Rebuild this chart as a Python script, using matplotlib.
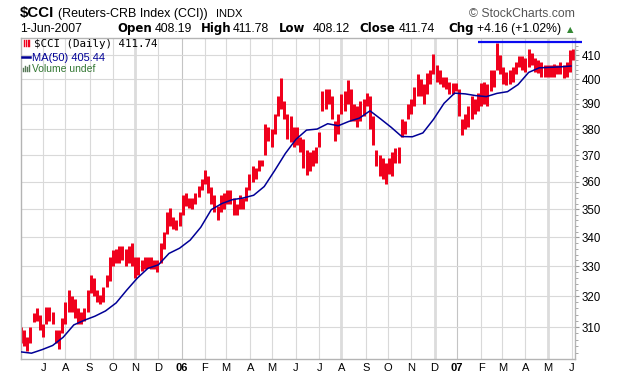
import numpy as np
import pandas as pd
import matplotlib
matplotlib.use('Agg')
import matplotlib.pyplot as plt
from matplotlib.lines import Line2D
from matplotlib.ticker import FixedLocator, NullFormatter, FuncFormatter

##################################################################
# DATA
##################################################################
# bar high / low, one value every 3rd trading day from 2-Jun-2005
hi = [310, 309, 307, 310, 314.5, 316, 314,
      311, 316.5, 316.5, 315, 309, 309, 313, 318,
      322, 320, 319, 316, 315, 316, 322, 327,
      326, 322, 320.5, 323, 327, 333, 335.5,
      336, 337, 337, 336, 337, 338, 333,
      333, 332, 333, 333, 333, 332, 332,
      338, 342, 349, 350.5, 347, 346, 349,
      355, 356, 354, 354, 356, 358.5, 361, 364.5,
      362, 358, 355, 351, 355, 356, 357,
      357, 354, 352, 355, 354, 358, 363,
      366, 365, 368, 368, 382, 381, 380,
      386, 393, 400.5, 391, 386, 385, 381, 381,
      377, 376, 372, 371, 372, 373, 379,
      395, 396, 396, 393, 383, 386, 394,
      395, 399.5, 396, 390, 389, 391, 392, 394.5,
      393, 385, 372, 370, 369, 367, 369,
      371, 372.5, 373, 384, 383, 390, 392,
      397, 402, 400, 398, 402.5, 404, 410.5,
      406, 404, 401, 401, 399, 398.5, 398.5,
      396, 384, 386, 389, 393, 392, 394.5,
      398.5, 399, 398, 404, 404, 415.3, 410,
      405, 403, 404, 405, 407, 409.5, 409.5,
      409, 412.4, 411, 409, 408, 407, 406, 406,
      406, 406.5, 406, 407, 406, 407, 412, 412.4]
lo = [305, 304, 302.5, 305, 311.5, 312, 309,
      307, 311, 312, 311, 305, 303, 308, 311,
      315, 315, 313, 311, 311, 312, 315, 321,
      320, 318, 317.5, 318, 323, 325, 330,
      331, 331, 332, 330, 331, 330, 326,
      327, 328.5, 329, 329.5, 329, 329, 328,
      331, 336, 341, 344, 343, 342.5, 344,
      348, 351, 350.5, 350, 352, 354.5, 357, 359,
      356, 352, 349, 346, 349, 350, 352,
      352, 348, 348, 350, 350, 353, 357,
      360, 361, 364, 366, 370, 375.5, 373,
      378, 385, 388, 384, 376, 375, 373, 374,
      371, 365, 362.5, 364, 366, 367, 373,
      387, 388, 390, 384, 375.5, 378, 386,
      387, 390, 383, 383, 381, 383, 385, 389,
      380, 374, 366, 362, 361, 359, 363,
      362, 367, 367, 377, 378, 384, 386,
      389, 393, 393, 390, 394, 398, 402,
      399, 398, 397, 396, 394, 394, 395,
      385, 377.5, 380, 381, 384, 386, 387,
      389, 390, 389, 395, 397, 404, 402,
      398, 397.5, 398, 399, 402, 405, 404,
      403, 405, 406, 403, 402.5, 401, 401, 401,
      401, 401, 402, 402, 400.5, 401, 403, 408]
# MA(50), one value every 10th trading day
ma50 = [302.2, 301.8, 302.9, 304.2, 306.8, 310.7, 312.2, 313.5, 315.2, 317.8,
        322.0, 326.0, 329.3, 330.5, 334.4, 336.2, 339.0, 343.5, 349.8, 352.0,
        353.4, 354.0, 355.0, 358.2, 364.2, 370.6, 376.0, 379.6, 380.0, 382.1,
        381.3, 383.0, 384.3, 387.2, 384.0, 380.7, 377.1, 377.0, 378.5, 383.8,
        390.2, 394.3, 394.0, 393.3, 392.9, 394.2, 394.9, 397.8, 402.8, 404.7,
        404.9, 405.1, 405.44]
yticks = [310, 320, 330, 340, 350, 360, 370, 380, 390, 400, 410]
line_level = 415.6       # user drawn line
line_from = '2007-01-29'

days = pd.bdate_range('2005-06-02', '2007-06-01')
xb = np.arange(len(hi)) * 3
xm = np.arange(len(ma50)) * 10

##################################################################
# FIGURE
##################################################################
W, H = 620, 379
fig = plt.figure(figsize=(W / 100, H / 100), dpi=100)
ax = fig.add_axes([20.7 / W, 1 - 359 / H, 554.3 / W, 321 / H])

def fx(x):
    return x / W

def fy(y):
    return 1 - y / H

# month ticks
ticks, labels = [], []
for i in range(1, len(days)):
    if days[i].month != days[i - 1].month:
        ticks.append(i)
        labels.append(days[i].strftime('%y') if days[i].month == 1 else days[i].strftime('%b')[0])

ax.set_yscale('log')
ax.set_xlim(-0.2, 523.8)
ax.set_ylim(300, 417.3)

grid_c = '#d9d9d9'
for t, lab in zip(ticks, labels):
    lw = 0.8
    c = grid_c
    if days[t].strftime('%Y-%m') in ('2005-11', '2006-08', '2006-12', '2007-05'):
        lw, c = 2.0, '#dcdcdc'
    if lab.isdigit():
        c = '#c4c4c4'
    ax.axvline(t, color=c, lw=lw, zorder=0)
for v in yticks:
    ax.axhline(v, color=grid_c, lw=0.8, zorder=0)

ax.vlines(xb, lo, hi, colors='#f0001c', lw=2.15, zorder=2)
ax.plot(xm, ma50, color='#000096', lw=1.1, zorder=3)

x0 = days.get_loc(pd.Timestamp(line_from))
ax.plot([x0, 530.4], [line_level, line_level], color='#0a0af0', lw=1.6,
        clip_on=False, zorder=4, solid_capstyle='butt')

ax.set_xticks(ticks)
ax.set_xticklabels(labels, fontsize=8, family='Liberation Sans')
for tl in ax.get_xticklabels():
    if tl.get_text().isdigit():
        tl.set_fontweight('bold')
ax.tick_params(axis='x', length=0, pad=3)

ax.yaxis.tick_right()
ax.yaxis.set_major_locator(FixedLocator(yticks))
ax.yaxis.set_major_formatter(FuncFormatter(lambda v, p: '%d' % v))
ax.yaxis.set_minor_locator(FixedLocator([v for v in range(302, 417, 2) if v % 10]))
ax.yaxis.set_minor_formatter(NullFormatter())
ax.tick_params(axis='y', which='major', length=3, width=0.8, color='#999999',
               pad=2, labelsize=8.3)
ax.tick_params(axis='y', which='minor', length=2, width=0.6, color='#999999')
for tl in ax.get_yticklabels():
    tl.set_family('Liberation Sans')

for s in ax.spines.values():
    s.set_color('#b4b4b4')
    s.set_linewidth(1.0)

##################################################################
# HEADER TEXT
##################################################################
sans = 'Liberation Sans'
fig.text(fx(20), fy(17), '$CCI', fontsize=10.8, fontweight='bold', family=sans, va='baseline')
fig.text(fx(58), fy(17), '(Reuters-CRB Index (CCI))', fontsize=9, family=sans, va='baseline')
fig.text(fx(216), fy(17), 'INDX', fontsize=8, family=sans, va='baseline')
fig.text(fx(469), fy(17), '\u00a9 StockCharts.com', fontsize=8.8, family=sans,
         color='#555555', va='baseline')

row2 = [(20, '1-Jun-2007', False), (117, 'Open', True), (155, '408.19', False),
        (201, 'High', True), (233, '411.78', False), (279, 'Low', True),
        (313, '408.12', False), (359, 'Close', True), (399, '411.74', False),
        (448, 'Chg', True), (477, '+4.16 (+1.02%)', False)]
for x, s, b in row2:
    if b:
        fig.text(fx(x), fy(32), s, fontsize=8.5, fontweight='bold', family='DejaVu Sans', va='baseline')
    else:
        fig.text(fx(x), fy(32), s, fontsize=8.8, family=sans, va='baseline')
fig.text(fx(567), fy(32), '\u25b2', fontsize=6, color='#338833', family='DejaVu Sans', va='baseline')

# legend inside the chart
for x in (23.5, 25.5, 27.5, 29.5):
    fig.add_artist(Line2D([fx(x), fx(x)], [fy(40), fy(46)], color='#f0001c', lw=1.0))
fig.text(fx(34), fy(47), '$CCI (Daily) 411.74', fontsize=7.8, family='DejaVu Sans Mono', va='baseline')
fig.add_artist(Line2D([fx(22), fx(30)], [fy(57), fy(57)], color='#000096', lw=1.8))
fig.text(fx(32), fy(61), 'MA(50) 405.44', fontsize=8, family=sans, color='#000096', va='baseline')
for x, h in ((23, 3), (25, 5), (27, 4), (29, 6)):
    fig.add_artist(Line2D([fx(x), fx(x)], [fy(71), fy(71 - h)], color='#557755', lw=1.0))
fig.text(fx(32), fy(72), 'Volume undef', fontsize=7.5, family=sans, color='#337733', va='baseline')

fig.savefig('out.png', dpi=100)
